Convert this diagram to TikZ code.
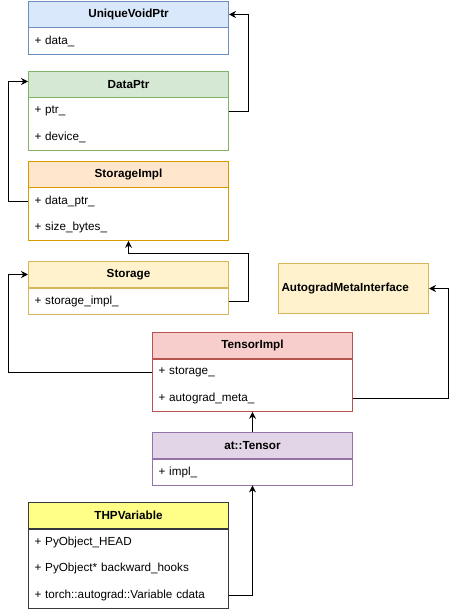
\documentclass[tikz,border=0pt]{standalone}
\usepackage{fontspec}
\setmainfont{Liberation Sans}
\usetikzlibrary{arrows.meta,positioning}
\definecolor{blueFill}{HTML}{DAE8FC}
\definecolor{blueLine}{HTML}{6C8EBF}
\definecolor{greenFill}{HTML}{D5E8D4}
\definecolor{greenLine}{HTML}{82B366}
\definecolor{orangeFill}{HTML}{FFE6CC}
\definecolor{orangeLine}{HTML}{D79B00}
\definecolor{sandFill}{HTML}{FFF2CC}
\definecolor{sandLine}{HTML}{D6B656}
\definecolor{redFill}{HTML}{F8CECC}
\definecolor{redLine}{HTML}{B85450}
\definecolor{violetFill}{HTML}{E1D5E7}
\definecolor{violetLine}{HTML}{9673A6}
\definecolor{noteFill}{HTML}{FFFF88}
\definecolor{noteLine}{HTML}{36393D}

\begin{document}
\begin{tikzpicture}[x=1pt,y=-1pt,
      font=\fontsize{11.7}{14}\selectfont,
      hd/.style={draw,line width=1pt,minimum width=200pt,minimum height=26pt,inner sep=0pt,
        anchor=north west,font=\fontsize{11.7}{14}\selectfont\bfseries},
      fld/.style={minimum height=26pt,text width=188pt,inner xsep=6pt,inner ysep=0pt,
        align=left,below=0pt of #1},
      outline/.style={draw=#1,line width=1pt},
      link/.style={line width=1pt,-{Stealth[length=7pt,width=7pt]}}]
    \useasboundingbox (0,0) rectangle (457,609);
    \coordinate (lft) at (8,0);

    % UniqueVoidPtr
    \node[hd,fill=blueFill,draw=blueLine] (uvp) at (28,1) {UniqueVoidPtr};
    \node[fld=uvp] (uvp-data) {+ data\_};
    \draw[outline=blueLine] (uvp.south west) rectangle (uvp-data.south east);

    % DataPtr
    \node[hd,fill=greenFill,draw=greenLine] (dp) at (28,71) {DataPtr};
    \node[fld=dp] (dp-ptr) {+ ptr\_};
    \node[fld=dp-ptr] (dp-dev) {+ device\_};
    \draw[outline=greenLine] (dp.south west) rectangle (dp-dev.south east);

    % StorageImpl
    \node[hd,fill=orangeFill,draw=orangeLine] (si) at (28,161) {StorageImpl};
    \node[fld=si] (si-data) {+ data\_ptr\_};
    \node[fld=si-data] (si-size) {+ size\_bytes\_};
    \draw[outline=orangeLine] (si.south west) rectangle (si-size.south east);

    % Storage
    \node[hd,fill=sandFill,draw=sandLine] (st) at (28,261) {Storage};
    \node[fld=st] (st-impl) {+ storage\_impl\_};
    \draw[outline=sandLine] (st.south west) rectangle (st-impl.south east);

    % AutogradMetaInterface
    \node[draw=sandLine,fill=sandFill,line width=1pt,minimum height=50pt,text width=144pt,
      inner xsep=3pt,inner ysep=0pt,align=left,anchor=north west,
      font=\fontsize{11.7}{14}\selectfont\bfseries] (ami) at (278,263) {AutogradMetaInterface};

    % TensorImpl
    \node[hd,fill=redFill,draw=redLine] (ti) at (152,332) {TensorImpl};
    \node[fld=ti] (ti-stor) {+ storage\_};
    \node[fld=ti-stor] (ti-meta) {+ autograd\_meta\_};
    \draw[outline=redLine] (ti.south west) rectangle (ti-meta.south east);

    % at::Tensor
    \node[hd,fill=violetFill,draw=violetLine] (at) at (152,432) {at::Tensor};
    \node[fld=at] (at-impl) {+ impl\_};
    \draw[outline=violetLine] (at.south west) rectangle (at-impl.south east);

    % THPVariable
    \node[hd,fill=noteFill,draw=noteLine] (thp) at (28,502) {THPVariable};
    \node[fld=thp] (thp-head) {+ PyObject\_HEAD};
    \node[fld=thp-head] (thp-hooks) {+ PyObject* backward\_hooks};
    \node[fld=thp-hooks] (thp-cdata) {+ torch::autograd::Variable cdata};
    \draw[outline=noteLine] (thp.south west) rectangle (thp-cdata.south east);

    % connectors
    \draw[link] (dp-ptr.east) -- ++(20,0) |- (uvp.east);
    \draw[link] (si-data.west) -- (si-data.west -| lft) |- ([yshift=3pt]dp.west);
    \draw[link] (st-impl.east) -- ++(20,0) -- ++(0,-48) -| (si-size.south);
    \draw[link] (ti-stor.west) -- (ti-stor.west -| lft) |- (st.west);
    \draw[link] (ti-meta.east) -- ++(96,0) |- (ami.east);
    \draw[link] (at.north) -- (ti-meta.south);
    \draw[link] (thp-cdata.east) -| (at-impl.south);
  \end{tikzpicture}
\end{document}
